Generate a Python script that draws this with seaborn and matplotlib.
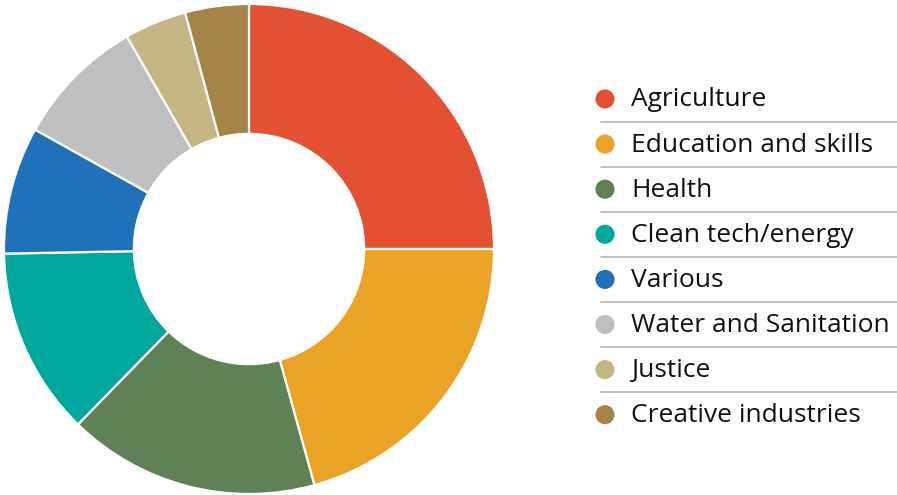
import matplotlib
matplotlib.use("Agg")
import matplotlib.pyplot as plt
import seaborn as sns

categories = ["Agriculture", "Education and skills", "Health", "Clean tech/energy",
              "Various", "Water and Sanitation", "Justice", "Creative industries"]
shares = [25.0, 20.7, 16.6, 12.4, 8.4, 8.6, 4.1, 4.2]
colors = ["#E35132", "#EBA326", "#5E8155", "#00A79D",
          "#1F72BA", "#BEBFC1", "#C5B583", "#A68449"]

sns.set_theme(style="white")
plt.rcParams['font.family'] = ['Open Sans', 'DejaVu Sans']
palette = sns.color_palette(colors)

W, H = 897, 495
fig = plt.figure(figsize=(W / 100, H / 100), dpi=100)

# Donut
ax = fig.add_axes([4 / W, 1 / H, 490 / W, 490 / H])
ax.pie(shares, colors=palette, startangle=90, counterclock=False, radius=1.0,
       wedgeprops=dict(width=0.53, edgecolor="white", linewidth=1.6))
ax.set_aspect("equal")
ax.set_xlim(-1, 1)
ax.set_ylim(-1, 1)
ax.axis("off")

# Legend
lax = fig.add_axes([580 / W, 0, 317 / W, 1])
lax.set_xlim(580, 897)
lax.set_ylim(H, 0)
lax.axis("off")
y0, step = 99, 45.1
for i, (cat, c) in enumerate(zip(categories, palette)):
    y = y0 + i * step
    lax.scatter([605], [y], s=190, color=c, edgecolor="none")
    lax.text(631, y + 1, cat, fontsize=19, va="center", ha="left", color="#111111")
    if i < len(categories) - 1:
        lax.plot([601, 897], [y + step / 2, y + step / 2], color="#BBBBBB", lw=1.3)

fig.savefig("out.png", dpi=100)
